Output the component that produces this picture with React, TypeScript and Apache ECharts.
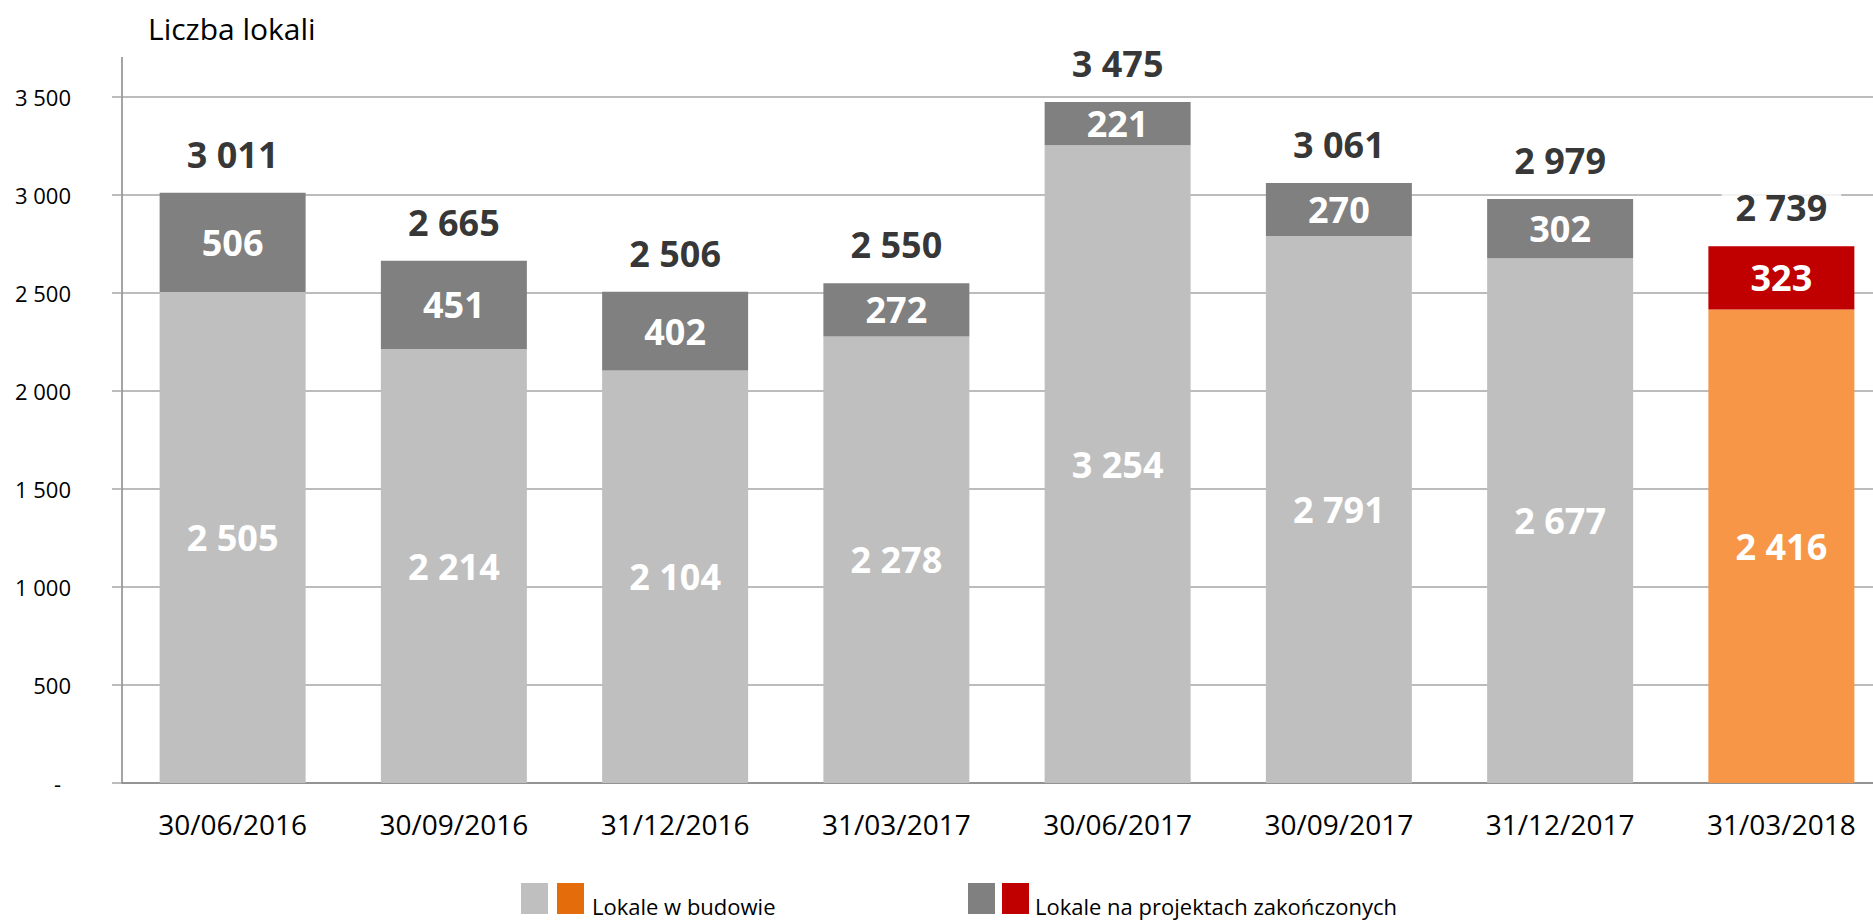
import React, { useEffect, useRef } from "react";
import * as echarts from "echarts";

const categories = [
  "30/06/2016",
  "30/09/2016",
  "31/12/2016",
  "31/03/2017",
  "30/06/2017",
  "30/09/2017",
  "31/12/2017",
  "31/03/2018",
];
const underConstruction = [2505, 2214, 2104, 2278, 3254, 2791, 2677, 2416];
const completedProjects = [506, 451, 402, 272, 221, 270, 302, 323];
const totals = [3011, 2665, 2506, 2550, 3475, 3061, 2979, 2739];
const seriesNames = ["Lokale w budowie", "Lokale na projektach zakończonych"];
const yTitle = "Liczba lokali";
const highlightIndex = 7;

const FONT = "'Open Sans', 'Noto Sans', sans-serif";
const LIGHT = "#BFBFBF";
const DARK = "#808080";
const ORANGE = "#F79646";
const RED = "#C00000";
const LEGEND_ORANGE = "#E46C0A";

const fmt = (v: number) =>
  v === 0 ? "-" : String(v).replace(/\B(?=(\d{3})+(?!\d))/g, " ");

export default function App() {
  const ref = useRef<HTMLDivElement>(null);

  useEffect(() => {
    document.body.style.margin = "0";
    if (!ref.current) return;
    const chart = echarts.init(ref.current, null, { renderer: "svg" });

    const segLabel = {
      show: true,
      position: "inside",
      color: "#fff",
      fontSize: 36,
      fontWeight: "bold",
      fontFamily: FONT,
      formatter: (p: any) => fmt(p.value),
    };

    chart.setOption({
      animation: false,
      textStyle: { fontFamily: FONT },
      grid: { left: 122, top: 97, width: 1770, height: 686 },
      xAxis: {
        type: "category",
        data: categories,
        axisLine: { lineStyle: { color: "#868686", width: 1.5 } },
        axisTick: { show: false },
        axisLabel: { color: "#000", fontSize: 28, fontFamily: FONT, margin: 27 },
      },
      yAxis: {
        type: "value",
        min: 0,
        max: 3500,
        interval: 500,
        axisLine: { show: true, lineStyle: { color: "#868686", width: 1.5 } },
        axisTick: { show: true, length: 10, lineStyle: { color: "#A6A6A6", width: 1.5 } },
        splitLine: { lineStyle: { color: "#A6A6A6", width: 1.5 } },
        axisLabel: {
          color: "#000",
          fontSize: 22,
          fontFamily: FONT,
          margin: 51,
          formatter: (v: number) => (v === 0 ? "{z|-}" : fmt(v)),
          rich: { z: { fontSize: 22, color: "#000", padding: [0, 10, 0, 0] } },
        },
      },
      series: [
        {
          name: seriesNames[0],
          type: "bar",
          stack: "total",
          barWidth: 146,
          itemStyle: { color: LIGHT },
          label: segLabel,
          data: underConstruction.map((v, i) =>
            i === highlightIndex ? { value: v, itemStyle: { color: ORANGE } } : v
          ),
        },
        {
          name: seriesNames[1],
          type: "bar",
          stack: "total",
          barWidth: 146,
          itemStyle: { color: DARK },
          label: segLabel,
          data: completedProjects.map((v, i) =>
            i === highlightIndex ? { value: v, itemStyle: { color: RED } } : v
          ),
        },
        {
          name: "Razem",
          type: "scatter",
          symbolSize: 1,
          itemStyle: { color: "rgba(0,0,0,0)" },
          label: {
            show: true,
            position: "top",
            distance: 18,
            color: "#000",
            fontSize: 36,
            fontWeight: "bold",
            fontFamily: FONT,
            backgroundColor: "#fff",
            padding: [2, 14],
            formatter: (p: any) => fmt(p.value),
          },
          data: totals,
          z: 5,
        },
      ],
      graphic: [
        {
          type: "line",
          shape: { x1: 122, y1: 57, x2: 122, y2: 97 },
          style: { stroke: "#868686", lineWidth: 1.5 },
        },
        {
          type: "text",
          x: 148,
          y: 28,
          style: {
            text: yTitle,
            fontSize: 30,
            fontFamily: FONT,
            fill: "#000",
            verticalAlign: "middle",
          },
        },
        { type: "rect", shape: { x: 521, y: 883, width: 27, height: 31 }, style: { fill: LIGHT } },
        { type: "rect", shape: { x: 557, y: 883, width: 27, height: 31 }, style: { fill: LEGEND_ORANGE } },
        {
          type: "text",
          x: 592,
          y: 906,
          style: { text: seriesNames[0], fontSize: 22, fontFamily: FONT, fill: "#000", verticalAlign: "middle" },
        },
        { type: "rect", shape: { x: 968, y: 883, width: 27, height: 31 }, style: { fill: DARK } },
        { type: "rect", shape: { x: 1002, y: 883, width: 27, height: 31 }, style: { fill: RED } },
        {
          type: "text",
          x: 1035,
          y: 906,
          style: { text: seriesNames[1], fontSize: 22, fontFamily: FONT, fill: "#000", verticalAlign: "middle" },
        },
      ],
    });

    return () => chart.dispose();
  }, []);

  return (
    <div style={{ width: 1873, height: 920, overflow: "hidden" }}>
      <div ref={ref} style={{ width: 1900, height: 920 }} />
    </div>
  );
}
